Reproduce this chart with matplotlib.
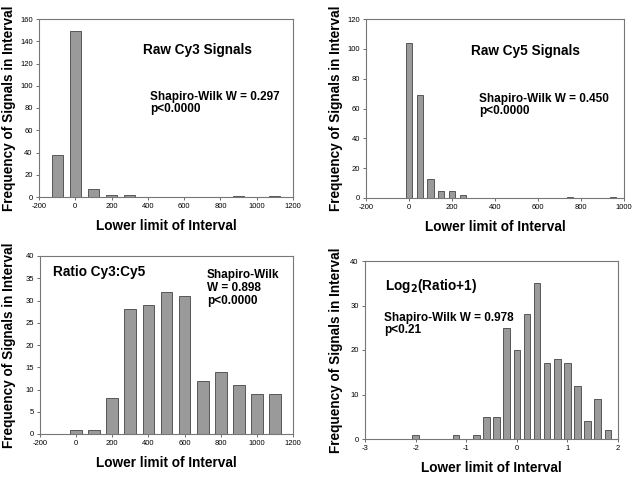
import matplotlib
matplotlib.use("Agg")
import matplotlib.pyplot as plt

plt.rcParams['font.family'] = ['Liberation Sans', 'DejaVu Sans']
plt.rcParams['axes.unicode_minus'] = False

# data
cy3_x = [-100, 0, 100, 200, 300, 900, 1100]
cy3_y = [38, 149, 7, 2, 2, 1, 1]

cy5_x = [0, 50, 100, 150, 200, 250, 750, 950]
cy5_y = [104, 69, 13, 5, 5, 2, 1, 1]

ratio_x = [0, 100, 200, 300, 400, 500, 600, 700, 800, 900, 1000, 1100]
ratio_y = [1, 1, 8, 28, 29, 32, 31, 12, 14, 11, 9, 9]

log_x = [-2.0, -1.2, -0.8, -0.6, -0.4, -0.2, 0.0, 0.2, 0.4, 0.6, 0.8, 1.0, 1.2, 1.4, 1.6, 1.8]
log_y = [1, 1, 1, 5, 5, 25, 20, 28, 35, 17, 18, 17, 12, 4, 9, 2]

W, H = 634, 478
fig = plt.figure(figsize=(W / 100, H / 100), dpi=100)


def box(l, t, r, b):
    return [l / W, 1 - b / H, (r - l) / W, (b - t) / H]


def px(x, y):
    return x / W, 1 - y / H


def setup(ax, xlim, xticks, ylim, yticks, label_x):
    ax.set_xlim(*xlim)
    ax.set_ylim(*ylim)
    ax.set_xticks(xticks)
    ax.set_yticks(yticks)
    for s in ax.spines.values():
        s.set_color('#777777')
        s.set_linewidth(0.8)
    ax.tick_params(labelsize=5.5, length=2.5, width=0.6, color='#555555', pad=2)
    ax.set_xlabel('Lower limit of Interval', fontsize=9.8, fontweight='bold', labelpad=6)
    ax.set_ylabel('Frequency of Signals in Interval', fontsize=9.8, fontweight='bold', va='center')
    # label centre in pixels -> axes fraction
    l = ax.get_position().x0 * W
    w = ax.get_position().width * W
    ax.yaxis.set_label_coords((label_x - l) / w, 0.5)


bar_kw = dict(color='#9a9a9a', edgecolor='#444444', linewidth=0.6)

ax1 = fig.add_axes(box(39, 19, 293, 197))
ax1.bar(cy3_x, cy3_y, width=60, **bar_kw)
setup(ax1, (-200, 1200), range(-200, 1201, 200), (0, 160), range(0, 161, 20), 9)

ax2 = fig.add_axes(box(366, 19, 624, 198))
ax2.bar(cy5_x, cy5_y, width=30, **bar_kw)
setup(ax2, (-200, 1000), range(-200, 1001, 200), (0, 120), range(0, 121, 20), 336)

ax3 = fig.add_axes(box(40, 256, 293, 434))
ax3.bar(ratio_x, ratio_y, width=65, **bar_kw)
setup(ax3, (-200, 1200), range(-200, 1201, 200), (0, 40), range(0, 41, 5), 9)

ax4 = fig.add_axes(box(365, 261, 618, 439))
ax4.bar(log_x, log_y, width=0.13, **bar_kw)
setup(ax4, (-3, 2), range(-3, 3), (0, 40), range(0, 41, 10), 336)

big = dict(fontsize=9.8, fontweight='bold', va='center', ha='left')
small = dict(fontsize=8.5, fontweight='bold', va='center', ha='left', linespacing=1.1)

fig.text(*px(143, 50), 'Raw Cy3 Signals', **big)
fig.text(*px(150, 103), 'Shapiro-Wilk W = 0.297\np<0.0000', **small)

fig.text(*px(471, 51), 'Raw Cy5 Signals', **big)
fig.text(*px(479, 105), 'Shapiro-Wilk W = 0.450\np<0.0000', **small)

fig.text(*px(53, 272), 'Ratio Cy3:Cy5', **big)
fig.text(*px(207, 288), 'Shapiro-Wilk\nW = 0.898\np<0.0000', **small)

fig.text(*px(385, 286), 'Log$_\\mathbf{2}$(Ratio+1)', **big)
fig.text(*px(384, 324), 'Shapiro-Wilk W = 0.978\np<0.21', **small)

fig.savefig('out.png', dpi=100)
